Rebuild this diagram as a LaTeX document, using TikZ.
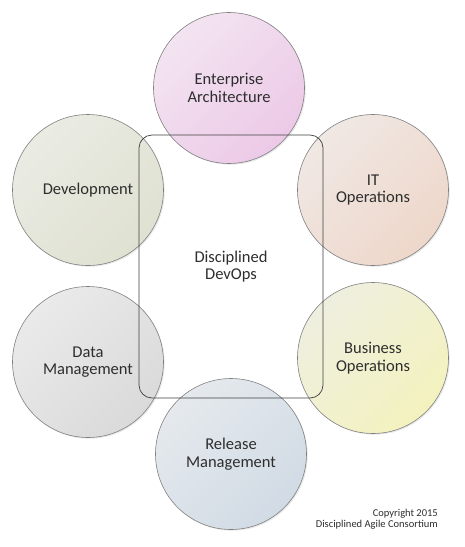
\documentclass[tikz,border=0pt]{standalone}
\usepackage{fontspec}
\setmainfont{Carlito}
\usepackage{tikz}
\usetikzlibrary{calc, shadows}

\definecolor{EAlight}{HTML}{F3E4F1}
\definecolor{EAdark}{HTML}{ECC9E7}
\definecolor{ITlight}{HTML}{F0E8E4}
\definecolor{ITdark}{HTML}{EED7CA}
\definecolor{BOlight}{HTML}{EFEFE0}
\definecolor{BOdark}{HTML}{F3F2BE}
\definecolor{DVlight}{HTML}{EAEBE3}
\definecolor{DVdark}{HTML}{DFE1D1}
\definecolor{DMlight}{HTML}{EAEAEA}
\definecolor{DMdark}{HTML}{DADADA}
\definecolor{RMlight}{HTML}{E5E9ED}
\definecolor{RMdark}{HTML}{D1DBE5}
\definecolor{ink}{HTML}{2E2E2E}

\tikzset{
  area/.style={circle, draw=black!50, line width=0.6pt, minimum size=151pt, inner sep=0pt,
    align=center, text=ink, font=\fontsize{16.5}{17.5}\selectfont,
    drop shadow={opacity=0.18, shadow xshift=1.2pt, shadow yshift=-1.2pt}},
  core/.style={draw=black!75, line width=0.7pt, rounded corners=13pt},
}

\providecommand{\Area}[5]{%
  % name, place, light fill, dark fill, label
  \node[area, left color=#3, right color=#4, shading angle=45] (#1) at (#2) {#5};
}

\begin{document}
\begin{tikzpicture}[x=1pt, y=-1pt]
	\useasboundingbox[fill=white] (0,0) rectangle (464,547);

	\coordinate (E) at (229,88);
	\coordinate (D) at (88,190);
	\coordinate (I) at (373,190);
	\coordinate (B) at (373,358);
	\coordinate (M) at (88,362);
	\coordinate (R) at (231,454);
	\coordinate (TL) at (139,135);
	\coordinate (BR) at (323,398);

	\Area{EA}{E}{EAlight}{EAdark}{Enterprise\\Architecture}
	\Area{DV}{D}{DVlight}{DVdark}{Development}
	\Area{IT}{I}{ITlight}{ITdark}{IT\\Operations}
	\Area{BO}{B}{BOlight}{BOdark}{Business\\Operations}
	\Area{DM}{M}{DMlight}{DMdark}{Data\\Management}
	\Area{RM}{R}{RMlight}{RMdark}{Release\\Management}

	\draw[core] (TL) rectangle (BR);
	\node[align=center, text=ink, font=\fontsize{16.5}{17.5}\selectfont] (DD) at ($ (TL)!0.5!(BR) $) {Disciplined\\DevOps};

	\node[anchor=east, align=right, inner sep=0pt, text=ink, font=\fontsize{10.5}{11.5}\selectfont] (copy) at (438,519) {Copyright 2015\\Disciplined Agile Consortium};

\end{tikzpicture}
\end{document}
